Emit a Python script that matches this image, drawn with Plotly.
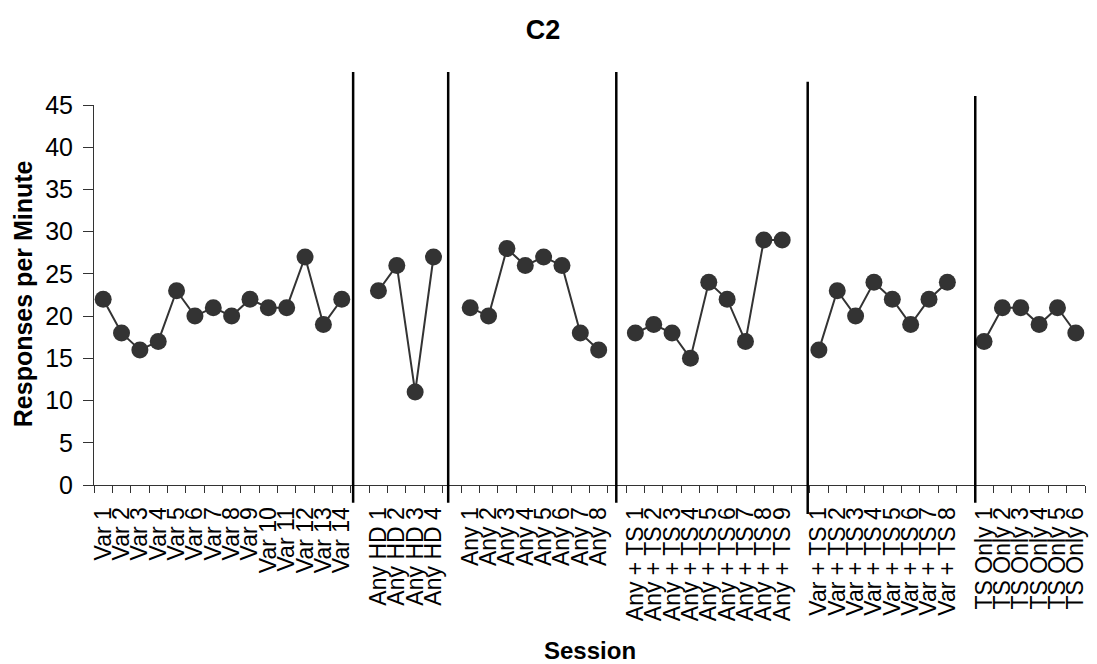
import plotly.graph_objects as go

# Session labels per phase
var_labels = ["Var 1", "Var 2", "Var 3", "Var 4", "Var 5", "Var 6", "Var 7",
              "Var 8", "Var 9", "Var 10", "Var 11", "Var 12", "Var 13", "Var 14"]
any_hd_labels = ["Any HD 1", "Any HD 2", "Any HD 3", "Any HD 4"]
any_labels = ["Any 1", "Any 2", "Any 3", "Any 4", "Any 5", "Any 6", "Any 7", "Any 8"]
any_ts_labels = ["Any + TS 1", "Any + TS 2", "Any + TS 3", "Any + TS 4", "Any + TS 5",
                 "Any + TS 6", "Any + TS 7", "Any + TS 8", "Any + TS 9"]
var_ts_labels = ["Var + TS 1", "Var + TS 2", "Var + TS 3", "Var + TS 4",
                 "Var + TS 5", "Var + TS 6", "Var + TS 7", "Var + TS 8"]
ts_only_labels = ["TS Only 1", "TS Only 2", "TS Only 3", "TS Only 4", "TS Only 5", "TS Only 6"]

# Responses per minute per phase
var_vals = [22, 18, 16, 17, 23, 20, 21, 20, 22, 21, 21, 27, 19, 22]
any_hd_vals = [23, 26, 11, 27]
any_vals = [21, 20, 28, 26, 27, 26, 18, 16]
any_ts_vals = [18, 19, 18, 15, 24, 22, 17, 29, 29]
var_ts_vals = [16, 23, 20, 24, 22, 19, 22, 24]
ts_only_vals = [17, 21, 21, 19, 21, 18]

phases = [
    (var_labels, var_vals),
    (any_hd_labels, any_hd_vals),
    (any_labels, any_vals),
    (any_ts_labels, any_ts_vals),
    (var_ts_labels, var_ts_vals),
    (ts_only_labels, ts_only_vals),
]

FONT = "Liberation Sans, Arial, sans-serif"
INK = "#333333"

fig = go.Figure()

# Lay phases out on one category axis with an empty slot between phases
tick_pos, tick_text = [], []
pos = 0
for labels, vals in phases:
    xs = list(range(pos, pos + len(labels)))
    tick_pos += xs
    tick_text += labels
    fig.add_trace(go.Scatter(
        x=xs, y=vals, mode="lines+markers",
        line=dict(color=INK, width=2),
        marker=dict(color=INK, size=17),
        showlegend=False, hoverinfo="x+y",
    ))
    pos += len(labels) + 1
n_slots = pos - 1

# Phase-change lines (x in slot units, top/bottom in paper units)
phase_lines = [(13.62, 1.087, -0.047), (18.80, 1.087, -0.047), (27.96, 1.087, -0.047),
               (38.39, 1.061, -0.076), (47.52, 1.024, -0.047)]
for xv, top, bottom in phase_lines:
    fig.add_shape(type="line", xref="x", yref="paper", x0=xv, x1=xv, y0=bottom, y1=top,
                  line=dict(color="black", width=2.5))

fig.update_xaxes(
    range=[-0.5, n_slots - 0.5],
    tickmode="array", tickvals=tick_pos, ticktext=tick_text,
    tickangle=-90, ticks="", ticklabelstandoff=12,
    tickfont=dict(family=FONT, size=23, color="black"),
    minor=dict(tickmode="array", tickvals=[k - 0.5 for k in range(n_slots + 1)],
               ticks="outside", ticklen=7, tickcolor=INK, tickwidth=1),
    showline=True, linecolor=INK, linewidth=1,
    showgrid=False, zeroline=False,
)
fig.update_yaxes(
    range=[0, 45], tickmode="linear", tick0=0, dtick=5,
    ticks="outside", ticklen=10, tickcolor=INK, tickwidth=1,
    ticklabelstandoff=5,
    tickfont=dict(family=FONT, size=25, color="black"),
    showline=True, linecolor=INK, linewidth=1,
    showgrid=False, zeroline=False,
)

fig.add_annotation(text="<b>Session</b>", xref="paper", yref="paper",
                   x=(592 - 94) / 994, y=-(650 - 485) / 380,
                   showarrow=False, font=dict(family=FONT, size=24, color="black"),
                   xanchor="center", yanchor="middle")
fig.add_annotation(text="<b>Responses per Minute</b>", xref="paper", yref="paper",
                   x=-(94 - 23) / 994, y=(485 - 294) / 380, textangle=-90,
                   showarrow=False, font=dict(family=FONT, size=25, color="black"),
                   xanchor="center", yanchor="middle")

fig.update_layout(
    width=1097, height=664,
    margin=dict(l=94, r=9, t=105, b=179),
    paper_bgcolor="white", plot_bgcolor="white",
    title=dict(text="<b>C2</b>", x=543 / 1097, y=1 - 30 / 664,
               xanchor="center", yanchor="middle",
               font=dict(family=FONT, size=27, color="black")),
)

fig.write_html("out.html")
